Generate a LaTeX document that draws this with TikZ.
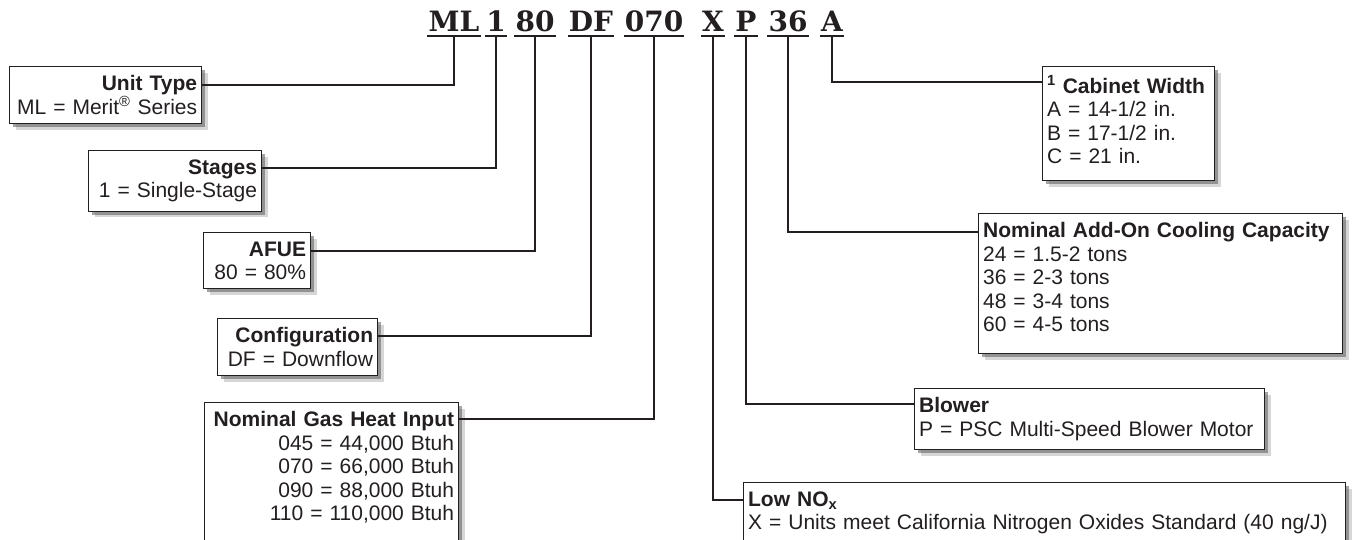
\documentclass[tikz,border=0pt]{standalone}
\usepackage{fontspec}
\setmainfont{Liberation Sans}
\newfontfamily\codefont{DejaVu Serif}
\usetikzlibrary{shadows}
\definecolor{ink}{HTML}{231F20}

\begin{document}
\begin{tikzpicture}[x=1pt,y=-1pt,
  box/.style={draw=ink,line width=1.2pt,fill=white,anchor=north west,
    inner xsep=4.5pt,inner ysep=9pt,text=ink,
    font=\fontsize{21}{23.5}\selectfont,
    drop shadow={shadow xshift=6pt,shadow yshift=-6pt,fill=black!40,opacity=.4},
    drop shadow={shadow xshift=3.5pt,shadow yshift=-3.5pt,fill=black!60,opacity=.6}},
  code/.style={font=\codefont\bfseries\fontsize{28}{28}\selectfont,text=ink,
    anchor=base,inner xsep=1pt,inner ysep=4pt,text depth=0pt},
  link/.style={draw=ink,line width=2pt}]
\path[use as bounding box,fill=white] (0,0) rectangle (1355,540);

% model number
\node[code] (cML) at (454,32) {ML};
\node[code] (c1) at (496,32) {1};
\node[code] (c80) at (535,32) {80};
\node[code] (cDF) at (591,32) {DF};
\node[code] (c070) at (654,32) {070};
\node[code] (cX) at (713,32) {X};
\node[code] (cP) at (746,32) {P};
\node[code] (c36) at (788,32) {36};
\node[code] (cA) at (832,32) {A};
\foreach \c in {ML,1,80,DF,070,X,P,36,A}
  \draw[ink,line width=2.5pt] (c\c.south west) -- (c\c.south east);

% left side
\node[box,text width=183pt,align=right] (unit) at (9,66)
  {\textbf{Unit Type}\\\mbox{ML = Merit\textsuperscript{\textregistered} Series}};
\node[box,text width=164pt,align=right] (stages) at (88,150)
  {\textbf{Stages}\\1 = Single-Stage};
\node[box,text width=98pt,align=right] (afue) at (203,232)
  {\textbf{AFUE}\\80 = 80\%};
\node[box,text width=151pt,align=right] (config) at (217,318)
  {\textbf{Configuration}\\DF = Downflow};
\node[box,text width=245pt,align=right] (gas) at (204,402)
  {\textbf{Nominal Gas Heat Input}\\045 = 44,000 Btuh\\070 = 66,000 Btuh\\090 = 88,000 Btuh\\110 = 110,000 Btuh\rule[-30pt]{0pt}{30pt}};

% right side
\node[box,text width=163pt,align=left] (cabinet) at (1042,66)
  {\textbf{\textsuperscript{1} Cabinet Width}\\A = 14-1/2 in.\\B = 17-1/2 in.\\C = 21 in.\rule[-8pt]{0pt}{8pt}};
\node[box,text width=355pt,align=left] (addon) at (978,213)
  {\textbf{Nominal Add-On Cooling Capacity}\\24 = 1.5-2 tons\\36 = 2-3 tons\\48 = 3-4 tons\\60 = 4-5 tons\rule[-13pt]{0pt}{13pt}};
\node[box,text width=341pt,align=left] (blower) at (914,388)
  {\textbf{Blower}\\P = PSC Multi-Speed Blower Motor};
\node[box,text width=593pt,align=left] (lownox) at (743,482)
  {\textbf{Low NO\textsubscript{x}}\\X = Units meet California Nitrogen Oxides Standard (40 ng/J)\rule[-30pt]{0pt}{30pt}};

% connectors
\draw[link] (cML.south) |- ([yshift=-19pt]unit.north east);
\draw[link] (c1.south) |- ([yshift=-18pt]stages.north east);
\draw[link] (c80.south) |- ([yshift=-19pt]afue.north east);
\draw[link] (cDF.south) |- ([yshift=-18pt]config.north east);
\draw[link] (c070.south) |- ([yshift=-17pt]gas.north east);
\draw[link] (cX.south) |- ([yshift=-18pt]lownox.north west);
\draw[link] (cP.south) |- ([yshift=-16pt]blower.north west);
\draw[link] (c36.south) |- ([yshift=-19pt]addon.north west);
\draw[link] (cA.south) |- ([yshift=-16pt]cabinet.north west);
\end{tikzpicture}
\end{document}
